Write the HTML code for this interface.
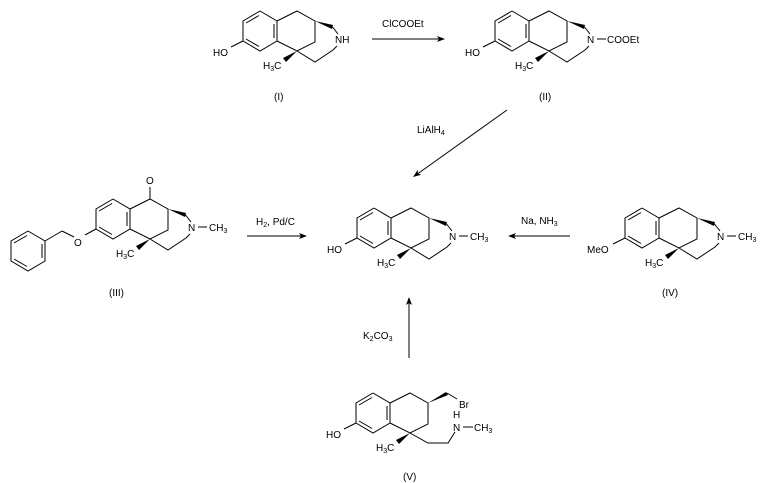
<!DOCTYPE html>
<html><head><meta charset="utf-8"><style>
html,body{margin:0;padding:0;background:#fff;}
svg{display:block;}
text{font-family:"Liberation Sans",Arial,sans-serif;font-size:10px;fill:#000;}
.s{font-size:7px;}
line,polyline{stroke:#000;stroke-width:1;fill:none;}
</style></head><body>
<svg width="762" height="483" viewBox="0 0 762 483" xmlns="http://www.w3.org/2000/svg">
<defs>
<g id="ring">
<polyline points="0,0 17,10 17,30 0,40 -17,30 -17,10 0,0"/>
<line x1="-14" y1="12" x2="-1" y2="4.5"/>
<line x1="14" y1="13" x2="14" y2="27"/>
<line x1="-1" y1="35.5" x2="-14" y2="28"/>
</g>
<g id="core">
<use href="#ring"/>
<polyline points="17,10 37,0 55,10 55,31 37,40 17,30"/>
<polygon points="55,10 73,14 72,18" fill="#000"/>
<line x1="72.5" y1="16" x2="78" y2="23"/>
<polyline points="77,35 73,39 55,51 37,40"/>
<polygon points="37,40 23,47 26,51" fill="#000"/>
<text x="3" y="58">H<tspan class="s" dy="2">3</tspan><tspan dy="-2">C</tspan></text>
</g>
<g id="arrowR"><polygon points="0,0 -8,-3 -6,0 -8,3" fill="#000"/></g>
</defs>

<!-- (I) -->
<g transform="translate(260,11)">
<use href="#core"/>
<line x1="-17" y1="30" x2="-29" y2="36"/>
<text x="-47" y="45">HO</text>
<text x="75" y="32">NH</text>
</g>
<text x="274" y="100">(I)</text>

<line x1="372" y1="39" x2="443" y2="39"/>
<use href="#arrowR" transform="translate(445,39)"/>
<text x="382" y="27">ClCOOEt</text>

<!-- (II) -->
<g transform="translate(512,11)">
<use href="#core"/>
<line x1="-17" y1="30" x2="-29" y2="36"/>
<text x="-47" y="45">HO</text>
<text x="75" y="32">N</text>
<line x1="85" y1="28" x2="94" y2="28"/>
<text x="95" y="32">COOEt</text>
</g>
<text x="539" y="100">(II)</text>

<line x1="507" y1="110" x2="416" y2="175"/>
<use href="#arrowR" transform="translate(413,177) rotate(144.5)"/>
<text x="417" y="133">LiAlH<tspan class="s" dy="2">4</tspan></text>

<!-- (III) -->
<g transform="translate(113,199)">
<use href="#core"/>
<line x1="37" y1="0" x2="37" y2="-12"/>
<text x="33" y="-15">O</text>
<text x="75" y="32">N</text>
<line x1="85" y1="28" x2="94" y2="28"/>
<text x="96" y="32">CH<tspan class="s" dy="2">3</tspan></text>
</g>
<line x1="96" y1="229" x2="85" y2="235"/>
<text x="74" y="246">O</text>
<line x1="74" y1="237" x2="62" y2="231"/>
<line x1="62" y1="231" x2="45" y2="241"/>
<g transform="translate(28,231)"><use href="#ring"/></g>
<text x="109" y="296">(III)</text>

<line x1="247" y1="236" x2="305" y2="236"/>
<use href="#arrowR" transform="translate(307,236)"/>
<text x="256" y="225">H<tspan class="s" dy="2">2</tspan><tspan dy="-2">, Pd/C</tspan></text>

<!-- center -->
<g transform="translate(374,208)">
<use href="#core"/>
<line x1="-17" y1="30" x2="-29" y2="36"/>
<text x="-47" y="45">HO</text>
<text x="75" y="32">N</text>
<line x1="85" y1="28" x2="94" y2="28"/>
<text x="96" y="32">CH<tspan class="s" dy="2">3</tspan></text>
</g>

<line x1="570" y1="236" x2="511" y2="236"/>
<use href="#arrowR" transform="translate(508,236) rotate(180)"/>
<text x="521" y="224">Na, NH<tspan class="s" dy="2">3</tspan></text>

<!-- (IV) -->
<g transform="translate(642,208)">
<use href="#core"/>
<line x1="-17" y1="30" x2="-29" y2="36"/>
<text x="-55" y="45">MeO</text>
<text x="75" y="32">N</text>
<line x1="85" y1="28" x2="94" y2="28"/>
<text x="96" y="32">CH<tspan class="s" dy="2">3</tspan></text>
</g>
<text x="662" y="296">(IV)</text>

<line x1="409" y1="358" x2="409" y2="300"/>
<use href="#arrowR" transform="translate(409,297) rotate(-90)"/>
<text x="363" y="339">K<tspan class="s" dy="2">2</tspan><tspan dy="-2">CO</tspan><tspan class="s" dy="2">3</tspan></text>

<!-- (V) -->
<g transform="translate(373,393)">
<use href="#ring"/>
<polyline points="17,10 37,0 55,10 55,31 37,40 17,30"/>
<polygon points="55,10 73,-1 75,2" fill="#000"/>
<line x1="74" y1="0" x2="84" y2="6"/>
<text x="86" y="15">Br</text>
<polygon points="37,40 23,47 26,51" fill="#000"/>
<text x="3" y="58">H<tspan class="s" dy="2">3</tspan><tspan dy="-2">C</tspan></text>
<polyline points="37,40 55,50 75,50 82,39"/>
<line x1="-17" y1="30" x2="-29" y2="36"/>
<text x="-47" y="45">HO</text>
<text x="80" y="25">H</text>
<text x="80" y="38">N</text>
<line x1="90" y1="34" x2="100" y2="34"/>
<text x="101" y="38">CH<tspan class="s" dy="2">3</tspan></text>
</g>
<text x="403" y="480">(V)</text>
</svg>
</body></html>
